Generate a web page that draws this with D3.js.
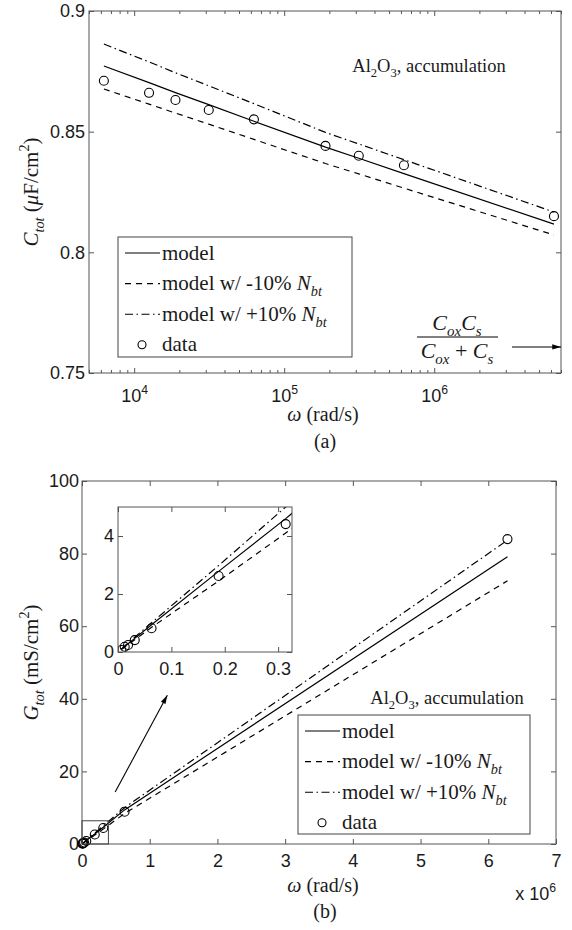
<!DOCTYPE html>
<html>
<head>
<meta charset="utf-8">
<script src="https://cdn.jsdelivr.net/npm/d3@7"></script>
<style>
  body { margin: 0; background: #fff; }
  svg { display: block; }
  .tick text { font-family: "Liberation Sans", Arial, sans-serif; font-size: 18px; fill: #1a1a1a; }
  .tick line { stroke: #555; }
  .serif { font-family: "Liberation Serif", "Times New Roman", serif; fill: #1a1a1a; }
</style>
</head>
<body>
<div id="chart"></div>
<script>
//--------------------------------------------------
// Data
//--------------------------------------------------
// angular frequency (rad/s), 2*pi*f
const omega = [6283, 12566, 18850, 31416, 62832, 188496, 314159, 628319, 6283185];

// (a) C_tot in uF/cm2
const cData  = [0.8711, 0.8661, 0.8631, 0.8590, 0.8551, 0.8441, 0.8400, 0.8361, 0.8150];
const cModel = [0.8772, 0.8703, 0.8662, 0.8612, 0.8543, 0.8436, 0.8390, 0.8326, 0.8117];
const cMinus = [0.8677, 0.8614, 0.8577, 0.8531, 0.8468, 0.8368, 0.8325, 0.8266, 0.8072];
const cPlus  = [0.8863, 0.8789, 0.8744, 0.8690, 0.8616, 0.8497, 0.8449, 0.8384, 0.8167];

// (b) G_tot in mS/cm2 (omega shown in units of 1e6 rad/s)
const gData  = [0.07, 0.18, 0.24, 0.41, 0.82, 2.62, 4.41, 8.9, 84.0];
const gModel = [0.095, 0.19, 0.285, 0.47, 0.94, 2.78, 4.6, 9.4, 79.1];
const gMinus = [0.085, 0.17, 0.255, 0.42, 0.85, 2.45, 4.1, 8.4, 72.5];
const gPlus  = [0.10, 0.205, 0.305, 0.51, 1.01, 2.98, 5.0, 10.0, 83.7];

// axis ticks
const xTicksA = [1e4, 1e5, 1e6];
const yTicksA = [0.75, 0.8, 0.85, 0.9];
const xTicksB = [0, 1, 2, 3, 4, 5, 6, 7];
const yTicksB = [0, 20, 40, 60, 80, 100];
const xTicksInset = [0, 0.1, 0.2, 0.3];
const yTicksInset = [0, 2, 4];

// annotations (data units)
const arrowA = { w0: 3.3e6, w1: 7e6, c: 0.7608 };
const arrowB = { w0: 0.49, g0: 14.3, w1: 1.26, g1: 41.0 };
const zoomBox = { w: 0.39, g: 6.4 };

//--------------------------------------------------
// helpers
//--------------------------------------------------
// appends tspans; part = {t, i (italic), sub, sup}
function rich(text, parts, fs) {
    let shift = 0;
    parts.forEach(p => {
        const target = p.sub ? 0.28 * fs : p.sup ? -0.42 * fs : 0;
        const ts = text.append("tspan").text(p.t);
        if (p.i) ts.attr("font-style", "italic");
        if (p.sub || p.sup) ts.attr("font-size", (fs * 0.68) + "px");
        if (target !== shift) ts.attr("dy", target - shift);
        shift = target;
    });
    return text;
}

const svg = d3.select("#chart")
    .append("svg")
    .attr("width", 572)
    .attr("height", 930);

svg.append("defs").append("marker")
    .attr("id", "arrow")
    .attr("viewBox", "0 -4 10 8")
    .attr("refX", 10)
    .attr("refY", 0)
    .attr("markerWidth", 10)
    .attr("markerHeight", 7)
    .attr("markerUnits", "userSpaceOnUse")
    .attr("orient", "auto")
    .append("path")
    .attr("d", "M0,-3L10,0L0,3Z")
    .attr("fill", "#000");

const styles = [
    { key: "model", dash: null },
    { key: "minus", dash: "6,5" },
    { key: "plus", dash: "8,3.5,1.5,3.5" }
];

const legendItems = [
    { parts: [{ t: "model" }], dash: null },
    { parts: [{ t: "model w/ -10% " }, { t: "N", i: true }, { t: "bt", i: true, sub: true }], dash: "6,5" },
    { parts: [{ t: "model w/ +10% " }, { t: "N", i: true }, { t: "bt", i: true, sub: true }], dash: "8,3.5,1.5,3.5" },
    { parts: [{ t: "data" }], circle: true }
];

const alParts = [{ t: "Al" }, { t: "2", sub: true }, { t: "O" }, { t: "3", sub: true }, { t: ", accumulation" }];

function drawLegend(g, x0, y0, w, h) {
    const lg = g.append("g").attr("transform", `translate(${x0},${y0})`);
    lg.append("rect")
        .attr("width", w).attr("height", h)
        .attr("fill", "#fff").attr("stroke", "#444").attr("stroke-width", 1);
    legendItems.forEach((d, i) => {
        const yy = 16 + i * 30.6;
        if (d.circle) {
            lg.append("circle").attr("cx", 24).attr("cy", yy).attr("r", 4)
                .attr("fill", "none").attr("stroke", "#000").attr("stroke-width", 1.1);
        } else {
            lg.append("line").attr("x1", 7).attr("x2", 42).attr("y1", yy).attr("y2", yy)
                .attr("stroke", "#000").attr("stroke-width", 1.1)
                .attr("stroke-dasharray", d.dash);
        }
        rich(lg.append("text").attr("class", "serif").attr("x", 44).attr("y", yy + 6.5)
            .attr("font-size", "21px"), d.parts, 21);
    });
}

function frame(g, w, h) {
    g.append("rect").attr("width", w).attr("height", h)
        .attr("fill", "none").attr("stroke", "#555").attr("stroke-width", 1);
}

//--------------------------------------------------
// (a) C_tot vs omega, log x
//--------------------------------------------------
const marginA = { top: 11, left: 89 },
    widthA = 472,
    heightA = 362;

const gA = svg.append("g").attr("transform", `translate(${marginA.left},${marginA.top})`);

const xA = d3.scaleLog().domain([5000, 7e6]).range([0, widthA]);
const yA = d3.scaleLinear().domain([0.75, 0.9]).range([heightA, 0]);

const minorA = [];
[1e3, 1e4, 1e5, 1e6].forEach(dec => {
    for (let k = 2; k <= 9; k++) {
        const v = dec * k;
        if (v >= 5000 && v <= 7e6) minorA.push(v);
    }
});

gA.append("g").attr("transform", `translate(0,${heightA})`)
    .call(d3.axisBottom(xA).tickValues(minorA).tickSize(-3).tickFormat(""))
    .call(g => g.select(".domain").remove());
gA.append("g")
    .call(d3.axisTop(xA).tickValues(minorA).tickSize(-3).tickFormat(""))
    .call(g => g.select(".domain").remove());
gA.append("g")
    .call(d3.axisTop(xA).tickValues(xTicksA).tickSize(-5).tickFormat(""))
    .call(g => g.select(".domain").remove());

gA.append("g").attr("transform", `translate(0,${heightA})`)
    .call(d3.axisBottom(xA).tickValues(xTicksA).tickSize(-5).tickPadding(16).tickFormat(""))
    .call(g => g.select(".domain").remove())
    .call(g => g.selectAll(".tick text").each(function (d) {
        rich(d3.select(this), [{ t: "10" }, { t: String(Math.round(Math.log10(d))), sup: true }], 18);
    }));

gA.append("g")
    .call(d3.axisLeft(yA).tickValues(yTicksA).tickSize(-5).tickPadding(4).tickFormat(d => String(d)))
    .call(g => g.select(".domain").remove());
gA.append("g").attr("transform", `translate(${widthA},0)`)
    .call(d3.axisRight(yA).tickValues(yTicksA).tickSize(-5).tickFormat(""))
    .call(g => g.select(".domain").remove());

frame(gA, widthA, heightA);

const seriesA = { model: cModel, minus: cMinus, plus: cPlus };
styles.forEach(s => {
    gA.append("path")
        .datum(omega.map((w, i) => ({ w, v: seriesA[s.key][i] })))
        .attr("fill", "none")
        .attr("stroke", "#000")
        .attr("stroke-width", 1.2)
        .attr("stroke-dasharray", s.dash)
        .attr("d", d3.line().x(d => xA(d.w)).y(d => yA(d.v)));
});

gA.selectAll(".pt")
    .data(omega.map((w, i) => ({ w, v: cData[i] })))
    .join("circle")
    .attr("class", "pt")
    .attr("cx", d => xA(d.w))
    .attr("cy", d => yA(d.v))
    .attr("r", 4.5)
    .attr("fill", "none")
    .attr("stroke", "#000")
    .attr("stroke-width", 1.1);

rich(gA.append("text").attr("class", "serif").attr("x", 340).attr("y", 61)
    .attr("text-anchor", "middle").attr("font-size", "18.5px"), alParts, 18.5);

drawLegend(gA, 29, 226, 234, 120);

// C_ox C_s / (C_ox + C_s) and arrow
rich(gA.append("text").attr("class", "serif").attr("x", 368).attr("y", 319)
    .attr("text-anchor", "middle").attr("font-size", "22px"),
    [{ t: "C", i: true }, { t: "ox", i: true, sub: true }, { t: "C", i: true }, { t: "s", i: true, sub: true }], 22);
gA.append("line").attr("x1", 328).attr("x2", 409).attr("y1", 326).attr("y2", 326)
    .attr("stroke", "#000").attr("stroke-width", 1);
rich(gA.append("text").attr("class", "serif").attr("x", 368).attr("y", 347)
    .attr("text-anchor", "middle").attr("font-size", "22px"),
    [{ t: "C", i: true }, { t: "ox", i: true, sub: true }, { t: " + " }, { t: "C", i: true }, { t: "s", i: true, sub: true }], 22);
gA.append("line")
    .attr("x1", xA(arrowA.w0)).attr("x2", xA(arrowA.w1))
    .attr("y1", yA(arrowA.c)).attr("y2", yA(arrowA.c))
    .attr("stroke", "#000").attr("stroke-width", 1.1)
    .attr("marker-end", "url(#arrow)");

// axis titles
rich(gA.append("text").attr("class", "serif")
    .attr("transform", `translate(-51,${heightA / 2}) rotate(-90)`)
    .attr("text-anchor", "middle").attr("font-size", "21px"),
    [{ t: "C", i: true }, { t: "tot", i: true, sub: true }, { t: " (" }, { t: "μ", i: true }, { t: "F/cm" }, { t: "2", sup: true }, { t: ")" }], 21);
rich(gA.append("text").attr("class", "serif")
    .attr("x", widthA / 2 - 2).attr("y", heightA + 48)
    .attr("text-anchor", "middle").attr("font-size", "20px"),
    [{ t: "ω", i: true }, { t: " (rad/s)" }], 20);
gA.append("text").attr("class", "serif")
    .attr("x", widthA / 2).attr("y", heightA + 75)
    .attr("text-anchor", "middle").attr("font-size", "20px")
    .text("(a)");

//--------------------------------------------------
// (b) G_tot vs omega, linear x
//--------------------------------------------------
const marginB = { top: 481, left: 82 },
    widthB = 474,
    heightB = 363;

const gB = svg.append("g").attr("transform", `translate(${marginB.left},${marginB.top})`);

const xB = d3.scaleLinear().domain([0, 7]).range([0, widthB]);
const yB = d3.scaleLinear().domain([0, 100]).range([heightB, 0]);

gB.append("g").attr("transform", `translate(0,${heightB})`)
    .call(d3.axisBottom(xB).tickValues(xTicksB).tickSize(-5).tickPadding(10).tickFormat(d3.format("d")))
    .call(g => g.select(".domain").remove());
gB.append("g")
    .call(d3.axisTop(xB).tickValues(xTicksB).tickSize(-5).tickFormat(""))
    .call(g => g.select(".domain").remove());
gB.append("g")
    .call(d3.axisLeft(yB).tickValues(yTicksB).tickSize(-5).tickPadding(3).tickFormat(d3.format("d")))
    .call(g => g.select(".domain").remove());
gB.append("g").attr("transform", `translate(${widthB},0)`)
    .call(d3.axisRight(yB).tickValues(yTicksB).tickSize(-5).tickFormat(""))
    .call(g => g.select(".domain").remove());

frame(gB, widthB, heightB);

const omegaM = omega.map(w => w / 1e6);
const seriesB = { model: gModel, minus: gMinus, plus: gPlus };

function drawG(g, x, y) {
    styles.forEach(s => {
        g.append("path")
            .datum(omegaM.map((w, i) => ({ w, v: seriesB[s.key][i] })))
            .attr("fill", "none")
            .attr("stroke", "#000")
            .attr("stroke-width", 1.2)
            .attr("stroke-dasharray", s.dash)
            .attr("d", d3.line().x(d => x(d.w)).y(d => y(d.v)));
    });
    g.selectAll(".pt")
        .data(omegaM.map((w, i) => ({ w, v: gData[i] })))
        .join("circle")
        .attr("class", "pt")
        .attr("cx", d => x(d.w))
        .attr("cy", d => y(d.v))
        .attr("r", 4.5)
        .attr("fill", "none")
        .attr("stroke", "#000")
        .attr("stroke-width", 1.1);
}

drawG(gB, xB, yB);

// zoomed region marker
gB.append("rect")
    .attr("x", xB(0)).attr("y", yB(zoomBox.g))
    .attr("width", xB(zoomBox.w) - xB(0))
    .attr("height", yB(0) - yB(zoomBox.g))
    .attr("fill", "none").attr("stroke", "#444").attr("stroke-width", 1);

gB.append("line")
    .attr("x1", xB(arrowB.w0)).attr("y1", yB(arrowB.g0))
    .attr("x2", xB(arrowB.w1)).attr("y2", yB(arrowB.g1))
    .attr("stroke", "#000").attr("stroke-width", 1.1)
    .attr("marker-end", "url(#arrow)");

// inset
const insetPos = { left: 36, top: 26 },
    widthI = 174,
    heightI = 145;
const gI = gB.append("g").attr("transform", `translate(${insetPos.left},${insetPos.top})`);
gI.append("rect").attr("width", widthI).attr("height", heightI).attr("fill", "#fff");

const xI = d3.scaleLinear().domain([0, 0.326]).range([0, widthI]);
const yI = d3.scaleLinear().domain([0, 5]).range([heightI, 0]);

gI.append("g").attr("transform", `translate(0,${heightI})`)
    .call(d3.axisBottom(xI).tickValues(xTicksInset).tickSize(-5).tickPadding(10).tickFormat(d => String(d)))
    .call(g => g.select(".domain").remove());
gI.append("g")
    .call(d3.axisTop(xI).tickValues(xTicksInset).tickSize(-5).tickFormat(""))
    .call(g => g.select(".domain").remove());
gI.append("g")
    .call(d3.axisLeft(yI).tickValues(yTicksInset).tickSize(-5).tickPadding(4).tickFormat(d3.format("d")))
    .call(g => g.select(".domain").remove());
gI.append("g").attr("transform", `translate(${widthI},0)`)
    .call(d3.axisRight(yI).tickValues(yTicksInset).tickSize(-5).tickFormat(""))
    .call(g => g.select(".domain").remove());

gI.append("clipPath").attr("id", "clipI")
    .append("rect").attr("width", widthI).attr("height", heightI);
const gIc = gI.append("g").attr("clip-path", "url(#clipI)");
drawG(gIc, xI, yI);
frame(gI, widthI, heightI);

rich(gB.append("text").attr("class", "serif").attr("x", 365).attr("y", 223)
    .attr("text-anchor", "middle").attr("font-size", "18.5px"), alParts, 18.5);

drawLegend(gB, 216, 234, 232, 119);

// axis titles
rich(gB.append("text").attr("class", "serif")
    .attr("transform", `translate(-44,${heightB / 2}) rotate(-90)`)
    .attr("text-anchor", "middle").attr("font-size", "21px"),
    [{ t: "G", i: true }, { t: "tot", i: true, sub: true }, { t: " (mS/cm" }, { t: "2", sup: true }, { t: ")" }], 21);
rich(gB.append("text").attr("class", "serif")
    .attr("x", widthB / 2 + 4).attr("y", heightB + 48)
    .attr("text-anchor", "middle").attr("font-size", "20px"),
    [{ t: "ω", i: true }, { t: " (rad/s)" }], 20);
rich(gB.append("text")
    .attr("x", widthB).attr("y", heightB + 56)
    .attr("text-anchor", "end")
    .style("font-family", "'Liberation Sans', Arial, sans-serif")
    .style("font-size", "18px").style("fill", "#1a1a1a"),
    [{ t: "x 10" }, { t: "6", sup: true }], 18);
gB.append("text").attr("class", "serif")
    .attr("x", widthB / 2 + 6).attr("y", heightB + 74)
    .attr("text-anchor", "middle").attr("font-size", "20px")
    .text("(b)");
</script>
</body>
</html>
